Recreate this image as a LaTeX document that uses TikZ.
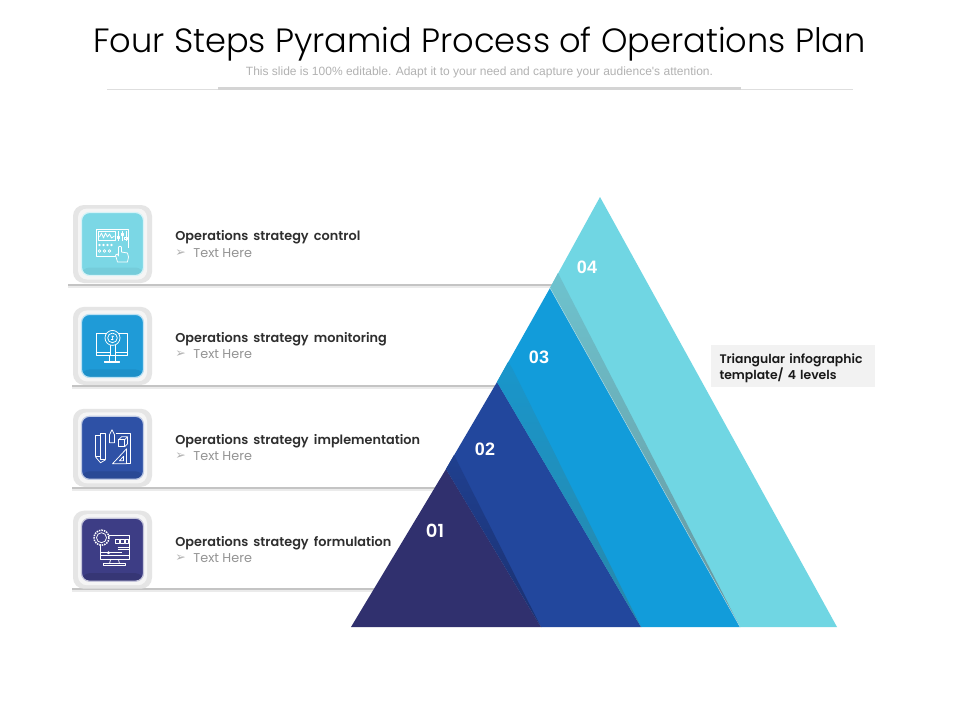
\documentclass[tikz,border=0pt]{standalone}
\usepackage{fontspec}
\setmainfont{Poppins}
\newfontfamily\lightfont{Poppins}[UprightFont=* Light]
\newfontfamily\headfont{Poppins}[UprightFont=* SemiBold,WordSpace=1.7]
\newfontfamily\plainfont{Liberation Sans}
\newfontfamily\arrowfont{DejaVu Sans}
\usepackage{tikz}
\usetikzlibrary{positioning}

\definecolor{layerone}{HTML}{30306E}
\definecolor{layertwo}{HTML}{22479D}
\definecolor{layerthree}{HTML}{129CDA}
\definecolor{layerfour}{HTML}{70D6E3}
\definecolor{bandtwo}{HTML}{1A2F6E}
\definecolor{bandthree}{HTML}{2A86A6}
\definecolor{bandfour}{HTML}{67929A}
\definecolor{faceone}{HTML}{3D3D85}
\definecolor{facetwo}{HTML}{2E51A6}
\definecolor{facethree}{HTML}{1F9BD7}
\definecolor{facefour}{HTML}{7BD7E5}

\tikzset{
    iconbox/.style={
        rectangle,
        rounded corners=11pt,
        fill=black!10,
        minimum width=79pt,
        minimum height=78pt,
        inner sep=0},
    iconrim/.style={
        rectangle,
        rounded corners=9pt,
        fill=black!4,
        minimum width=69pt,
        minimum height=71pt,
        inner sep=0},
    iconface/.style n args={2}{
        rectangle,
        rounded corners=8pt,
        fill=#1,
        draw=white!70!#1,
        line width=1.2pt,
        minimum width=62pt,
        minimum height=63pt,
        inner sep=0,
        path picture={
            \fill[#2] ([yshift=8pt]path picture bounding box.south west)
                rectangle (path picture bounding box.south east);}},
    iconline/.style={draw=white,line width=0.75pt,line join=round},
    steptitle/.style={
        inner sep=0,
        text=black!82,
        font=\headfont\fontsize{12.85}{14}\selectfont},
    stepbullet/.style={
        inner sep=0,
        text=black!30,
        font=\arrowfont\fontsize{12.5}{14}\selectfont},
    stepnote/.style={
        inner sep=0,
        text=black!42,
        font=\fontsize{12.8}{14}\selectfont},
    rowline/.style={draw=black!23,line width=2pt},
    rowshade/.style={draw=black!8,line width=3pt},
    levelnum/.style={
        text=white,
        inner sep=0,
        font=\plainfont\fontsize{18}{20}\selectfont\bfseries}
}

\begin{document}
\begin{tikzpicture}[x=1pt,y=-1pt]

\useasboundingbox[fill=white] (0,0) rectangle (960,720);

% Heading
\node[
    inner sep=0,
    font=\lightfont\fontsize{33.65}{40}\selectfont
] (title) at (479.5,44) {Four Steps Pyramid Process of Operations Plan};

\node[
    inner sep=0,
    text=black!30,
    font=\plainfont\fontsize{12}{13}\selectfont
] (subtitle) at (479.5,72.5) {This slide is 100\% editable. Adapt it to your need and capture your audience's attention.};

\coordinate (ruleL) at (107,89.5);
\coordinate (ruleR) at (853,89.5);
\coordinate (barL) at (218,88.5);
\coordinate (barR) at (741,88.5);
\draw[black!13,line width=0.7pt] (ruleL) -- (ruleR);
\draw[black!17,line width=3.6pt] (barL) -- (barR);

% Pyramid corners
\coordinate (apex) at (600,197);
\coordinate (baseL) at (351,627);
\coordinate (baseR) at (837,627);
\coordinate (topthree) at (550,288);
\coordinate (footthree) at (740,627);
\coordinate (toptwo) at (497,382);
\coordinate (foottwo) at (641,627);
\coordinate (topone) at (446,469);
\coordinate (footone) at (541,627);

% Row lines
\coordinate (ctrlL) at (68,284.5);
\coordinate (ctrlR) at (553,284.5);
\coordinate (monL) at (72,385.5);
\coordinate (monR) at (500,385.5);
\coordinate (implL) at (72,487.5);
\coordinate (implR) at (444,487.5);
\coordinate (formL) at (72,588.5);
\coordinate (formR) at (386,588.5);

\draw[rowshade] ([yshift=-2pt]ctrlL) -- ([yshift=-2pt]ctrlR);
\draw[rowline] (ctrlL) -- (ctrlR);
\draw[rowshade] ([yshift=-2pt]monL) -- ([yshift=-2pt]monR);
\draw[rowline] (monL) -- (monR);
\draw[rowshade] ([yshift=-2pt]implL) -- ([yshift=-2pt]implR);
\draw[rowline] (implL) -- (implR);
\draw[rowshade] ([yshift=-2pt]formL) -- ([yshift=-2pt]formR);
\draw[rowline] (formL) -- (formR);

% Pyramid layers
\fill[layerfour] (apex) -- (baseR) -- (footthree) -- (topthree) -- cycle;
\fill[layerthree] (topthree) -- (footthree) -- (foottwo) -- (toptwo) -- cycle;
\fill[layertwo] (toptwo) -- (foottwo) -- (footone) -- (topone) -- cycle;
\fill[layerone] (topone) -- (footone) -- (baseL) -- cycle;

% Shadows on the layers
\begin{scope}
\clip (topthree) -- (footthree) -- (558,273) -- cycle;
\shade[shift={(topthree)},rotate=-60.7,bottom color=bandfour,top color=bandfour!25!layerfour]
    (-30,0) rectangle (420,-16);
\end{scope}
\begin{scope}
\clip (toptwo) -- (foottwo) -- (508.6,361) -- cycle;
\shade[shift={(toptwo)},rotate=-59.6,bottom color=bandthree,top color=bandthree!25!layerthree]
    (-30,0) rectangle (320,-20);
\end{scope}
\begin{scope}
\clip (topone) -- (footone) -- (454,455) -- cycle;
\shade[shift={(topone)},rotate=-59,bottom color=bandtwo,top color=bandtwo!25!layertwo]
    (-30,0) rectangle (220,-15);
\end{scope}
\draw[white,opacity=0.45,line width=0.5pt] (topthree) -- (footthree);

% Level numbers
\node[levelnum] (numfour) at (587,267) {04};
\node[levelnum] (numthree) at (539,357) {03};
\node[levelnum] (numtwo) at (485,449) {02};
\node[levelnum,font=\headfont\fontsize{18}{20}\selectfont] (numone) at (435,531) {01};

% Side note
\node[
    rectangle,
    fill=black!5,
    minimum width=164pt,
    minimum height=42pt,
    inner sep=0
] (sidenote) at (793,366) {};

\node[
    text width=147pt,
    align=left,
    inner sep=0,
    text=black!90,
    font=\headfont\fontsize{12.4}{16}\selectfont
] (sidetext) at ([yshift=-2pt]sidenote) {Triangular infographic\\template/ 4 levels};

% Control row
\node[iconbox] (ctrlbox) at (112.5,244) {};
\node[iconrim] (ctrlrim) at (ctrlbox) {};
\node[iconface={facefour}{facefour!95!black}] (ctrlface) at (ctrlbox) {};
\node[steptitle,right=23pt of ctrlbox,yshift=6.5pt] (ctrltitle) {Operations strategy control};
\node[stepbullet,below=15.5pt of ctrltitle.west,anchor=west] (ctrlbullet) {➢};
\node[stepnote,below=15.5pt of ctrltitle.west,anchor=west,xshift=18pt] (ctrlnote) {Text Here};

% Monitoring row
\node[iconbox,below=23.5pt of ctrlbox] (monbox) {};
\node[iconrim] (monrim) at (monbox) {};
\node[iconface={facethree}{facethree!93!black}] (monface) at (monbox) {};
\node[steptitle,right=23pt of monbox,yshift=6.5pt] (montitle) {Operations strategy monitoring};
\node[stepbullet,below=15pt of montitle.west,anchor=west] (monbullet) {➢};
\node[stepnote,below=15pt of montitle.west,anchor=west,xshift=18pt] (monnote) {Text Here};

% Implementation row
\node[iconbox,below=23.5pt of monbox] (implbox) {};
\node[iconrim] (implrim) at (implbox) {};
\node[iconface={facetwo}{facetwo!90!black}] (implface) at (implbox) {};
\node[steptitle,right=23pt of implbox,yshift=6.5pt] (impltitle) {Operations strategy implementation};
\node[stepbullet,below=14.5pt of impltitle.west,anchor=west] (implbullet) {➢};
\node[stepnote,below=14.5pt of impltitle.west,anchor=west,xshift=18pt] (implnote) {Text Here};

% Formulation row
\node[iconbox,below=23.5pt of implbox] (formbox) {};
\node[iconrim] (formrim) at (formbox) {};
\node[iconface={faceone}{faceone!88!black}] (formface) at (formbox) {};
\node[steptitle,right=23pt of formbox,yshift=6.5pt] (formtitle) {Operations strategy formulation};
\node[stepbullet,below=14.5pt of formtitle.west,anchor=west] (formbullet) {➢};
\node[stepnote,below=14.5pt of formtitle.west,anchor=west,xshift=18pt] (formnote) {Text Here};

% Control icon
\begin{scope}[shift={(ctrlbox.center)},iconline]
\draw (3,12) -- (-16,12) -- (-16,-15) -- (16,-15) -- (16,4);
\draw (-14,-13) rectangle (3,-4);
\draw (-13,-7) -- (-11,-11) -- (-9,-6) -- (-7,-11) -- (-5,-7) -- (-3,-10) -- (-1,-6) -- (2,-8);
\draw (6,-13) -- (6,-3) (10,-13) -- (10,-3) (13.5,-13) -- (13.5,-3);
\draw (4.8,-8) rectangle (7.2,-6) (8.8,-11) rectangle (11.2,-9) (12.3,-7) rectangle (14.7,-5);
\draw (-13,1) circle (0.9) (-9,1) circle (0.9) (-5,1) circle (0.9) (-1,1) circle (0.9);
\draw (-13,7) circle (1.4) (-8,7) circle (1.4) (-3,7) circle (1.4);
\draw[fill=facefour] (5,18) -- (3,11) -- (5,10) -- (6,12) -- (6,3) to[bend left=60] (9,3) -- (9,8) -- (15,9) -- (16,13) -- (15,18) -- cycle;
\end{scope}

% Monitoring icon
\begin{scope}[shift={(monbox.center)},iconline]
\draw (-16,-13) rectangle (15,9);
\draw (-16,6) -- (15,6);
\draw (-3,9) -- (-3,15) (3,9) -- (3,15);
\draw (-8,15) rectangle (7,16.5);
\draw[fill=facethree] (-2.5,-2) rectangle (2.5,9);
\draw[fill=facethree] (0,-8) circle (7.5);
\draw (0,-8) circle (4.8);
\draw (1.5,-9.5) .. controls (0,-11) and (-2,-9.5) .. (0,-8) .. controls (2,-6.5) and (0,-5) .. (-1.5,-6.5);
\end{scope}

% Implementation icon
\begin{scope}[shift={(implbox.center)},iconline]
\draw (3,-14) -- (18,-14) -- (18,16) -- (0,16);
\draw (-17,-12) rectangle (-12,9);
\draw (-12,-14) rectangle (-7,12);
\draw (-17,9) -- (-12,15) -- (-7,12);
\draw (-3,-13) -- (-0.5,-18) -- (2,-13) -- (2,-5) -- (-3,-5) -- cycle;
\draw (6,-8) rectangle (12,-1);
\draw (6,-8) -- (9,-11) -- (15,-11) -- (12,-8) (15,-11) -- (15,-4) -- (12,-1);
\draw[fill=facetwo] (0,16) -- (14,1) -- (14,16) -- cycle;
\draw (7,13) -- (11,8.5) -- (11,13) -- cycle;
\end{scope}

% Formulation icon
\begin{scope}[shift={(formbox.center)},iconline]
\draw (-12,-14) rectangle (17,10);
\draw (-12,6) -- (17,6);
\draw (-2,10) -- (-3,14) (6,10) -- (7,14);
\draw (-9,14) rectangle (13,16);
\draw (3,-10) rectangle (7,-6) (8,-10) rectangle (12,-6) (13,-10) rectangle (16,-6);
\draw (5,-2) -- (16,-2) (5,0) -- (16,0);
\draw (-12,3) -- (9,3);
\draw[fill=white] (-4,3) circle (1.1);
\draw[fill=faceone,densely dotted,line width=1.5pt] (-11,-12) circle (7.5);
\draw[fill=faceone] (-11,-12) circle (5);
\end{scope}

\end{tikzpicture}
\end{document}
